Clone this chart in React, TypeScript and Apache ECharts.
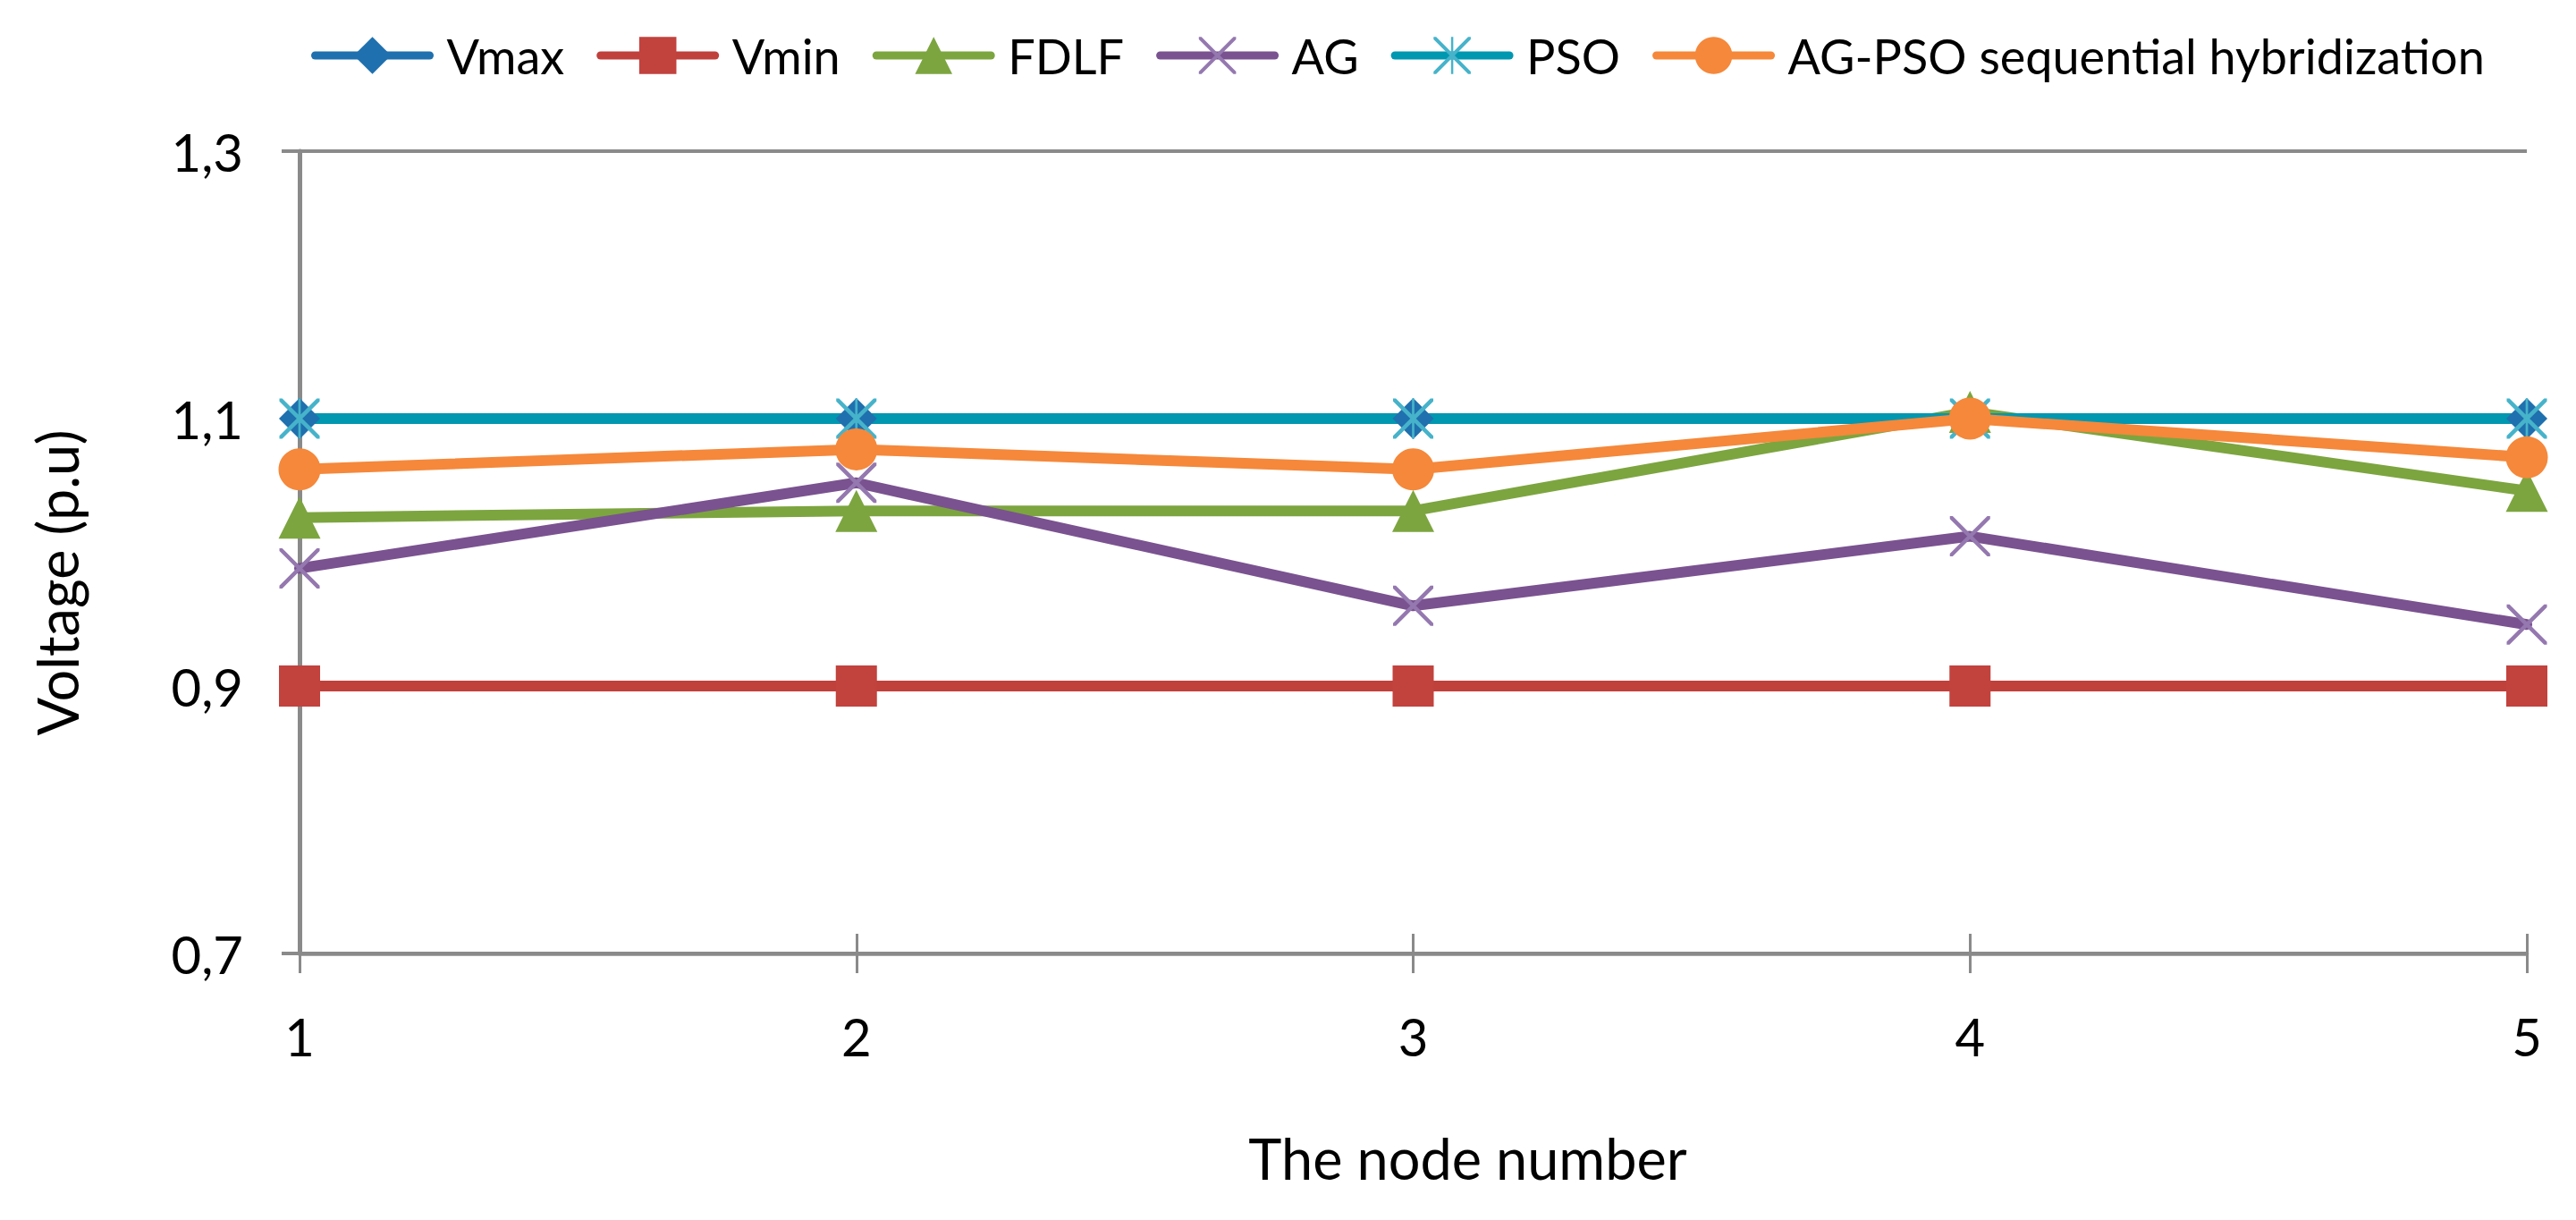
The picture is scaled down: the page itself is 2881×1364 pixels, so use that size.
import React, { useEffect, useRef } from "react";
import * as echarts from "echarts";

const nodes = ["1", "2", "3", "4", "5"];
const vmax = [1.1, 1.1, 1.1, 1.1, 1.1];
const vmin = [0.9, 0.9, 0.9, 0.9, 0.9];
const fdlf = [1.026, 1.031, 1.031, 1.105, 1.046];
const ag = [0.988, 1.052, 0.96, 1.012, 0.946];
const pso = [1.1, 1.1, 1.1, 1.1, 1.1];
const hybrid = [1.062, 1.077, 1.062, 1.1, 1.071];
const yTicks = { min: 0.7, max: 1.3, step: 0.2 };

const X_PATH =
  "path://M0,0 L7,0 L100,93 L100,100 L93,100 L0,7 Z M100,0 L100,7 L7,100 L0,100 L0,93 L93,0 Z";
const STAR_PATH =
  "path://M0,0 L7,0 L100,93 L100,100 L93,100 L0,7 Z M100,0 L100,7 L7,100 L0,100 L0,93 L93,0 Z M47,0 L53,0 L53,100 L47,100 Z";

const FONT = "Lato";

export default function App() {
  const ref = useRef<HTMLDivElement>(null);
  useEffect(() => {
    if (!ref.current) return;
    const chart = echarts.init(ref.current, null, { renderer: "svg" });
    const mk = (name: string, data: number[], line: string, sym: string, symColor: string, size: number) => ({
      name,
      type: "line",
      data,
      symbol: sym,
      symbolSize: size,
      showAllSymbol: true,
      itemStyle: { color: symColor },
      lineStyle: { color: line, width: 12, join: "round", cap: "round" },
      emphasis: { disabled: true },
    });
    chart.setOption({
      animation: false,
      textStyle: { fontFamily: FONT, color: "#000" },
      legend: {
        left: 343,
        top: 30,
        itemWidth: 128,
        itemHeight: 52,
        itemGap: 36,
        textStyle: { fontFamily: FONT, fontSize: 54, color: "#000", padding: [0, 0, 0, 14] },
        lineStyle: { width: 9 },
        data: ["Vmax", "Vmin", "FDLF", "AG", "PSO", "AG-PSO sequential hybridization"],
      },
      grid: { left: 335, right: 55, top: 169, bottom: 298, containLabel: false },
      xAxis: [
        {
          type: "category",
          data: nodes,
          boundaryGap: false,
          axisLine: { lineStyle: { color: "#8A8A8A", width: 4.5 } },
          axisTick: { show: true, length: 22, inside: false, lineStyle: { color: "#8A8A8A", width: 3 } },
          axisLabel: { fontFamily: FONT, fontSize: 58, color: "#000", margin: 63 },
          splitLine: { show: false },
          name: "The node number",
          nameLocation: "middle",
          nameGap: 197,
          nameTextStyle: { fontFamily: FONT, fontSize: 63, color: "#000", padding: [0, 0, 0, 122] },
        },
        {
          type: "category",
          data: nodes,
          boundaryGap: false,
          position: "bottom",
          axisLine: { show: false },
          axisTick: { show: true, length: 22, inside: true, lineStyle: { color: "#8A8A8A", width: 3 } },
          axisLabel: { show: false },
          splitLine: { show: false },
        },
      ],
      yAxis: {
        type: "value",
        min: yTicks.min,
        max: yTicks.max,
        interval: yTicks.step,
        axisLine: { show: true, lineStyle: { color: "#8A8A8A", width: 5 } },
        axisTick: { show: true, length: 20, lineStyle: { color: "#8A8A8A", width: 4 } },
        axisLabel: {
          fontFamily: FONT,
          fontSize: 58,
          color: "#000",
          margin: 63,
          formatter: (v: number) => v.toFixed(1).replace(".", ","),
        },
        splitLine: { show: true, lineStyle: { color: "#8A8A8A", width: 4 } },
        name: "Voltage (p.u)",
        nameLocation: "middle",
        nameGap: 240,
        nameTextStyle: { fontFamily: FONT, fontSize: 63, color: "#000", padding: [0, 68, 0, 0] },
      },
      series: [
        mk("Vmax", vmax, "#1F70AE", "diamond", "#1F70AE", 46),
        mk("Vmin", vmin, "#C0403C", "rect", "#C2423E", 46),
        mk("FDLF", fdlf, "#7CA53F", "triangle", "#7CA53F", 47),
        mk("AG", ag, "#7A5290", X_PATH, "#9478AF", 45),
        mk("PSO", pso, "#0097B1", STAR_PATH, "#46B3CA", 45),
        mk("AG-PSO sequential hybridization", hybrid, "#F5883A", "circle", "#F5883A", 47),
      ],
    });
    return () => chart.dispose();
  }, []);
  return (
    <div
      ref={ref}
      style={{ position: "absolute", left: 0, top: 0, width: 2881, height: 1364, background: "#fff" }}
    />
  );
}
